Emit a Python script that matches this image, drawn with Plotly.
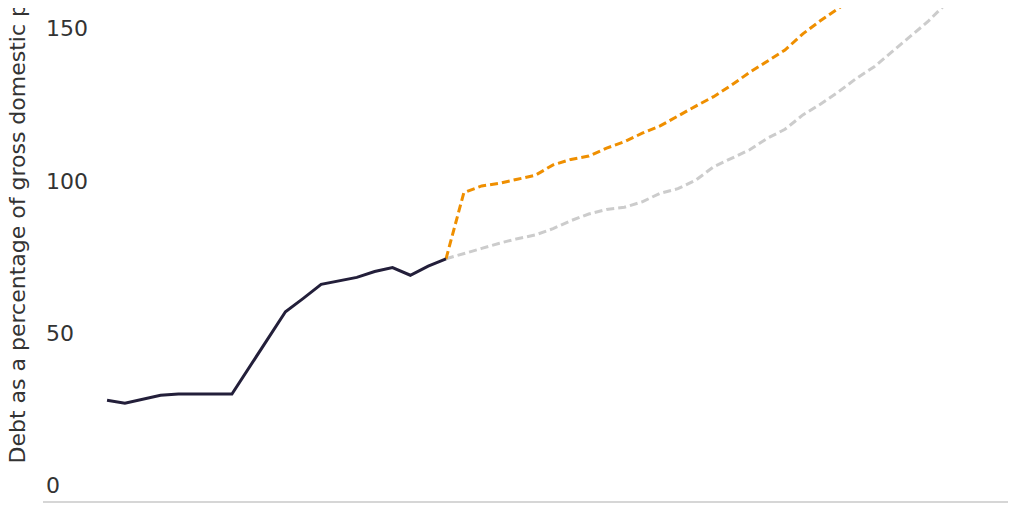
import plotly.graph_objects as go

# historical debt (vertices)
hist_years = [2000, 2001, 2003, 2004, 2007, 2010, 2011, 2012, 2014, 2015, 2016, 2017, 2018, 2019]
hist_debt = [33.1, 32.1, 34.7, 35.1, 35.1, 62.1, 66.5, 71.1, 73.4, 75.3, 76.6, 74.1, 77.1, 79.5]

# projections
proj_years = list(range(2019, 2051))
proj_new = [79.5, 101.2, 103.4, 104.3, 105.6, 106.9, 110.3, 112.1, 113.2, 115.8, 117.9,
            120.7, 123.1, 126.4, 129.6, 132.7, 136.5, 140.6, 144.2, 148.0, 153.3, 157.7,
            161.7, 166.0, 170.5, 174.5, 178.0, 182.0, 185.5, 189.0, 192.0, 195.0]
proj_old = [79.5, 81.3, 82.9, 84.6, 86.1, 87.3, 89.4, 92.0, 94.2, 95.7, 96.4,
            98.2, 101.0, 102.5, 105.3, 109.7, 112.5, 115.2, 119.0, 122.0, 126.7, 130.3,
            134.3, 138.7, 142.5, 147.4, 152.4, 157.3, 163.1, 168.5, 174.0, 180.0]

y_ticks = [0, 50, 100, 150]

FONT = "DejaVu Sans"
TXT = "#333333"

fig = go.Figure()
fig.add_trace(go.Scatter(x=proj_years, y=proj_old, mode="lines",
                         line=dict(color="#cccccc", width=3, dash="8px,4px")))
fig.add_trace(go.Scatter(x=proj_years, y=proj_new, mode="lines",
                         line=dict(color="#ef8f00", width=3, dash="8px,4px")))
fig.add_trace(go.Scatter(x=hist_years, y=hist_debt, mode="lines",
                         line=dict(color="#231f3a", width=3)))

# y title as annotation so it runs off the top like the original
fig.add_annotation(text="Debt as a percentage of gross domestic product",
                   textangle=-90, xref="paper", yref="y",
                   x=-0.026, y=11.8, xanchor="center", yanchor="bottom",
                   showarrow=False, font=dict(family=FONT, size=22, color=TXT))

fig.update_layout(
    width=1024, height=512,
    margin=dict(l=35, r=24, t=0, b=19),
    plot_bgcolor="white", paper_bgcolor="white",
    showlegend=False,
    font=dict(family=FONT, size=22, color=TXT),
    xaxis=dict(range=[1996.41, 2050.5], showgrid=False, zeroline=False,
               showticklabels=False, ticks="",
               showline=True, linecolor="#d6d6d6", linewidth=2),
    yaxis=dict(range=[0, 161.8], tickvals=y_ticks, showgrid=False, zeroline=False,
               ticklabelposition="inside top", ticks="", showline=False,
               tickfont=dict(family=FONT, size=22, color=TXT)),
)

fig.write_html("out.html")
